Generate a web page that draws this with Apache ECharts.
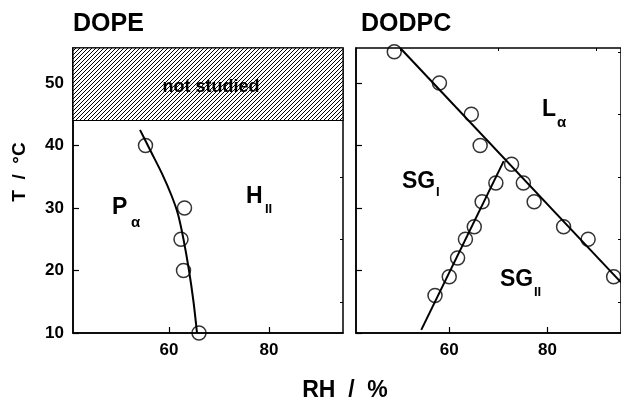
<!DOCTYPE html>
<html>
<head>
<meta charset="utf-8">
<script src="https://cdn.jsdelivr.net/npm/echarts@6/dist/echarts.min.js"></script>
<style>
  html, body { margin: 0; padding: 0; background: #fff; }
  #chart { width: 621px; height: 411px; }
</style>
</head>
<body>
<div id="chart"></div>
<script>
// DOPE phase boundary measurements
var dopeRH = [55.3, 63.1, 62.4, 62.9, 66.0];
var dopeT = [40, 30, 25, 20, 10];
// smooth boundary curve P_alpha / H_II
var dopeCurveRH = [54.2, 56.4, 58.6, 60.5, 61.8, 62.9, 64.0, 64.9, 65.6];
var dopeCurveT = [42.5, 39, 35.5, 32, 29, 25, 20, 15, 10];
// region not studied
var notStudiedT = [44, 55.6];

// DODPC measurements
var dodpcRH = [48.8, 58.0, 64.5, 66.3, 72.7, 69.5, 75.1, 77.3, 66.7, 65.1, 63.3, 61.7, 60.0, 57.1, 83.3, 88.3, 93.5];
var dodpcT = [55, 50, 45, 40, 37, 34, 34, 31, 31, 27, 25, 22, 19, 16, 27, 25, 19];
// boundary lines
var laLineRH = [50, 95];
var laLineT = [55.6, 18.1];
var sgLineRH = [54.3, 71.1];
var sgLineT = [10.5, 37.5];

var xTicks = [60, 80];
var xMinor = [50, 70, 90];
var yTicks = [10, 20, 30, 40, 50];
var yMinor = [15, 25, 35, 45, 55];

var FONT = 'Liberation Sans, Arial, sans-serif';

function pairs(xs, ys) {
  return xs.map(function (x, i) { return [x, ys[i]]; });
}

// hatch pattern
var hatch = document.createElement('canvas');
hatch.width = 4; hatch.height = 4;
var hc = hatch.getContext('2d');
hc.fillStyle = '#fff';
hc.fillRect(0, 0, 4, 4);
hc.strokeStyle = '#000';
hc.lineWidth = 1;
hc.beginPath();
hc.moveTo(-1, 1); hc.lineTo(1, -1);
hc.moveTo(0, 4); hc.lineTo(4, 0);
hc.moveTo(3, 5); hc.lineTo(5, 3);
hc.stroke();

function mainX(grid, min, max) {
  return {
    type: 'value', gridIndex: grid, min: min, max: max,
    axisLine: { show: true, onZero: false, lineStyle: { color: '#000', width: 1.5 } },
    axisTick: { show: true, inside: true, length: 6, customValues: xTicks, lineStyle: { color: '#000', width: 1.2 } },
    axisLabel: { show: true, customValues: xTicks, color: '#000', fontSize: 17, fontWeight: 'bold', fontFamily: FONT, margin: 9 },
    splitLine: { show: false }
  };
}
function minorX(grid, min, max) {
  return {
    type: 'value', gridIndex: grid, min: min, max: max,
    axisLine: { show: false },
    axisTick: { show: true, inside: true, length: 3, customValues: xMinor, lineStyle: { color: '#000', width: 1 } },
    axisLabel: { show: false },
    splitLine: { show: false }
  };
}
function mainY(grid, labels) {
  return {
    type: 'value', gridIndex: grid, min: 10, max: 55.6,
    axisLine: { show: true, onZero: false, lineStyle: { color: '#000', width: 1.5 } },
    axisTick: { show: true, inside: true, length: 6, customValues: yTicks, lineStyle: { color: '#000', width: 1.2 } },
    axisLabel: { show: labels, customValues: yTicks, color: '#000', fontSize: 17, fontWeight: 'bold', fontFamily: FONT, margin: 9 },
    splitLine: { show: false }
  };
}
function minorY(grid) {
  return {
    type: 'value', gridIndex: grid, min: 10, max: 55.6,
    axisLine: { show: false },
    axisTick: { show: true, inside: true, length: 3, customValues: yMinor, lineStyle: { color: '#000', width: 1 } },
    axisLabel: { show: false },
    splitLine: { show: false }
  };
}

var circleStyle = { color: 'rgba(0,0,0,0)', borderColor: '#000', borderWidth: 1.5 };

function txt(text, x, y, size) {
  return {
    type: 'text', x: x, y: y, z: 100,
    style: { text: text, fill: '#000', font: 'bold ' + size + 'px ' + FONT, textVerticalAlign: 'middle' }
  };
}

var chart = echarts.init(document.getElementById('chart'), null, { renderer: 'canvas' });
chart.setOption({
  backgroundColor: '#fff',
  animation: false,
  grid: [
    { left: 73, top: 48, width: 270, height: 285, show: true, borderColor: '#000', borderWidth: 1.5, backgroundColor: 'transparent' },
    { left: 356, top: 48, width: 270, height: 285, show: true, borderColor: '#000', borderWidth: 1.5, backgroundColor: 'transparent' }
  ],
  xAxis: [mainX(0, 40.8, 94.8), mainX(1, 41, 95), minorX(0, 40.8, 94.8), minorX(1, 41, 95)],
  yAxis: [mainY(0, true), mainY(1, false), minorY(0), minorY(1)],
  series: [
    {
      type: 'line', xAxisIndex: 0, yAxisIndex: 0,
      data: [],
      markArea: {
        silent: true,
        itemStyle: { color: { image: hatch, repeat: 'repeat' }, borderColor: '#000', borderWidth: 1.2 },
        label: { show: true, position: 'inside', offset: [3, 3], formatter: 'not studied', color: '#000', fontSize: 18, fontWeight: 'bold', fontFamily: FONT },
        data: [[{ yAxis: notStudiedT[0] }, { yAxis: notStudiedT[1] }]]
      }
    },
    {
      type: 'line', xAxisIndex: 0, yAxisIndex: 0, smooth: 0.3, symbol: 'none',
      lineStyle: { color: '#000', width: 2 },
      data: pairs(dopeCurveRH, dopeCurveT)
    },
    {
      type: 'scatter', xAxisIndex: 0, yAxisIndex: 0, symbol: 'circle', symbolSize: 14,
      itemStyle: circleStyle,
      data: pairs(dopeRH, dopeT)
    },
    {
      type: 'line', xAxisIndex: 1, yAxisIndex: 1, symbol: 'none',
      lineStyle: { color: '#000', width: 2 },
      data: pairs(laLineRH, laLineT)
    },
    {
      type: 'line', xAxisIndex: 1, yAxisIndex: 1, symbol: 'none',
      lineStyle: { color: '#000', width: 2 },
      data: pairs(sgLineRH, sgLineT)
    },
    {
      type: 'scatter', xAxisIndex: 1, yAxisIndex: 1, symbol: 'circle', symbolSize: 14,
      itemStyle: circleStyle,
      data: pairs(dodpcRH, dodpcT)
    }
  ],
  graphic: [
    txt('DOPE', 73, 24, 25),
    txt('DODPC', 361, 24, 25),
    { type: 'text', x: 345, y: 391, z: 100,
      style: { text: 'RH  /  %', fill: '#000', font: 'bold 23px ' + FONT, textAlign: 'center', textVerticalAlign: 'middle' } },
    { type: 'text', x: 20, y: 172, rotation: Math.PI / 2, z: 100,
      style: { text: 'T  /  °C', fill: '#000', font: 'bold 19px ' + FONT, textAlign: 'center', textVerticalAlign: 'middle' } },
    txt('P', 112, 208, 23),
    txt('α', 131, 223, 15),
    txt('H', 246, 197, 23),
    txt('II', 265, 209, 13),
    txt('L', 542, 110, 23),
    txt('α', 557, 123, 15),
    txt('SG', 402, 182, 23),
    txt('I', 436, 192, 13),
    txt('SG', 500, 280, 23),
    txt('II', 534, 292, 13)
  ]
});
</script>
</body>
</html>
